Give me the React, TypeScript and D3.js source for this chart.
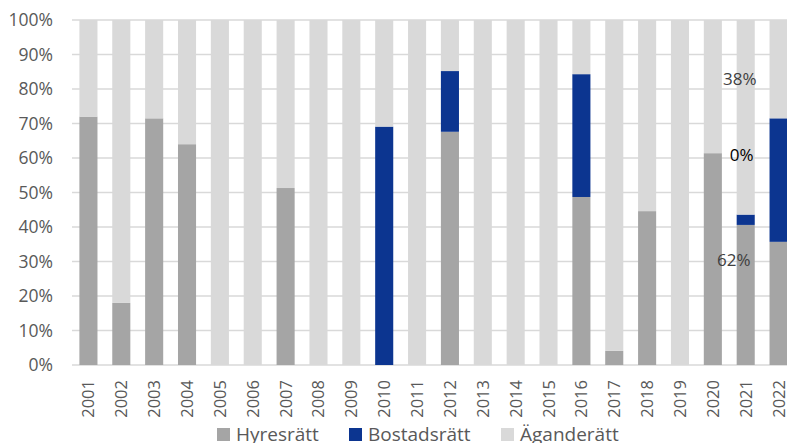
import { useEffect, useRef } from 'react';
import * as d3 from 'd3';

const YEARS = ['2001', '2002', '2003', '2004', '2005', '2006', '2007', '2008', '2009', '2010', '2011',
  '2012', '2013', '2014', '2015', '2016', '2017', '2018', '2019', '2020', '2021', '2022'];
const HYRESRATT = [72, 18, 71.5, 64, 0, 0, 51.3, 0, 0, 0, 0, 67.6, 0, 0, 0, 48.7, 4.1, 44.6, 0, 61.4, 40.6, 35.7];
const BOSTADSRATT = [0, 0, 0, 0, 0, 0, 0, 0, 0, 69.1, 0, 17.6, 0, 0, 0, 35.6, 0, 0, 0, 0, 3, 35.8];
const AGANDERATT = [28, 82, 28.5, 36, 100, 100, 48.7, 100, 100, 30.9, 100, 14.8, 100, 100, 100, 15.7, 95.9, 55.4, 100, 38.6, 56.4, 28.5];
const SERIES = ['Hyresrätt', 'Bostadsrätt', 'Äganderätt'];
const COLORS = ['#a5a5a5', '#0c3590', '#d9d9d9'];
const Y_TICKS = [0, 10, 20, 30, 40, 50, 60, 70, 80, 90, 100];
// stray data labels on the 2021 column
const LABELS = [
  { year: '2021', value: 83, text: '38%', color: '#404040', dx: -6 },
  { year: '2021', value: 61, text: '0%', color: '#000000', dx: -4 },
  { year: '2021', value: 30.5, text: '62%', color: '#404040', dx: -12 },
];

export default function App() {
  const ref = useRef<SVGSVGElement>(null);

  useEffect(() => {
    const el = ref.current;
    if (!el) return;
    const svg = d3.select(el);
    svg.selectAll('*').remove();
    const font = "'Open Sans', sans-serif";

    const left = 72, right = 795, top = 20, bottom = 365;
    const x = d3.scaleBand<string>().domain(YEARS).range([left, right]).paddingInner(0.45).paddingOuter(0.225);
    const y = d3.scaleLinear().domain([0, 100]).range([bottom, top]);

    // grid
    svg.append('g').selectAll('line').data(Y_TICKS).join('line')
      .attr('x1', left).attr('x2', right)
      .attr('y1', (d) => y(d)).attr('y2', (d) => y(d))
      .attr('stroke', '#d9d9d9').attr('stroke-width', 1.5);

    const rows = YEARS.map((yr, i) => ({ year: yr, h: HYRESRATT[i], b: BOSTADSRATT[i], a: AGANDERATT[i] }));
    const stack = d3.stack<any>().keys(['h', 'b', 'a'])(rows);

    svg.append('g').selectAll('g').data(stack).join('g')
      .attr('fill', (_d, i) => COLORS[i])
      .selectAll('rect').data((d) => d).join('rect')
      .attr('x', (d) => x(d.data.year)!)
      .attr('width', x.bandwidth())
      .attr('y', (d) => y(d[1]))
      .attr('height', (d) => y(d[0]) - y(d[1]));

    // y tick labels
    svg.append('g').selectAll('text').data(Y_TICKS).join('text')
      .attr('x', 53).attr('y', (d) => y(d) + 6)
      .attr('text-anchor', 'end').attr('font-family', font).attr('font-size', 17.5)
      .attr('fill', '#595959').text((d) => `${d}%`);

    // x labels rotated
    svg.append('g').selectAll('text').data(YEARS).join('text')
      .attr('transform', (d) => `translate(${x(d)! + x.bandwidth() / 2 + 6},380) rotate(-90)`)
      .attr('text-anchor', 'end').attr('font-family', font).attr('font-size', 16.5)
      .attr('fill', '#595959').text((d) => d);

    // data labels
    svg.append('g').selectAll('text').data(LABELS).join('text')
      .attr('x', (d) => x(d.year)! + x.bandwidth() / 2 + d.dx)
      .attr('y', (d) => y(d.value) + 6)
      .attr('text-anchor', 'middle').attr('font-family', font).attr('font-size', 17)
      .attr('fill', (d) => d.color).text((d) => d.text);

    // legend
    const legendX = [217, 349, 501];
    const lg = svg.append('g').selectAll('g').data(SERIES).join('g')
      .attr('transform', (_d, i) => `translate(${legendX[i]},428)`);
    lg.append('rect').attr('width', 13).attr('height', 13).attr('fill', (_d, i) => COLORS[i]);
    lg.append('text').attr('x', 19).attr('y', 13)
      .attr('font-family', font).attr('font-size', 19).attr('fill', '#595959')
      .text((d) => d);
  }, []);

  return (
    <svg ref={ref} width={787} height={443}
      style={{ position: 'absolute', left: 0, top: 0, background: '#fff' }} />
  );
}
